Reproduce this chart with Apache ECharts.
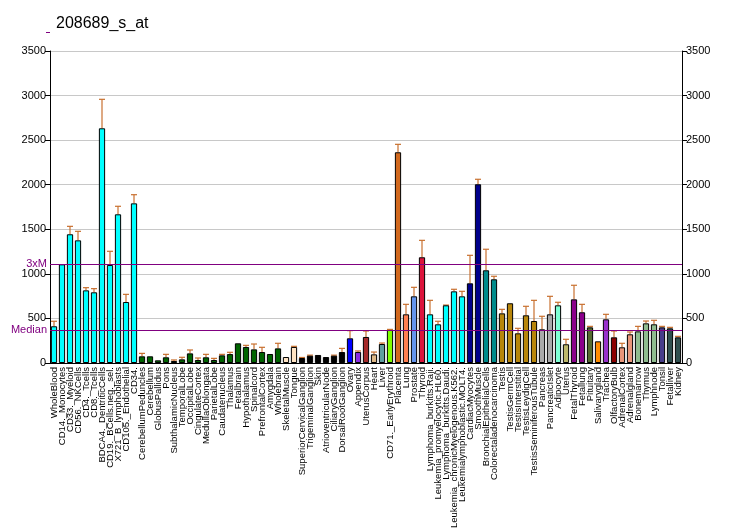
<!DOCTYPE html>
<html>
<head>
<meta charset="utf-8">
<script src="https://cdn.jsdelivr.net/npm/echarts@6/dist/echarts.min.js"></script>
<style>
html,body{margin:0;padding:0;background:#fff;}
#chart{width:732px;height:530px;}
</style>
</head>
<body>
<div id="chart"></div>
<script>
const categories = [
"WholeBlood","CD14._Monocytes","CD33._Myeloid","CD56._NKCells","CD4._Tcells","CD8._Tcells",
"BDCA4._DentriticCells","CD19._BCells.neg._sel.","X721_B_lymphoblasts","CD105._Endothelial","CD34.",
"CerebellumPeduncles","Cerebellum","GlobusPallidus","Pons","SubthalamicNucleus","TemporalLobe",
"OccipitalLobe","CingulateCortex","MedullaOblongata","ParietalLobe","Caudatenucleus","Thalamus",
"Fetalbrain","Hypothalamus","Spinalcord","PrefrontalCortex","Amygdala","Wholebrain","SkeletalMuscle",
"Tongue","SuperiorCervicalGanglion","TrigeminalGanglion","Skin","AtrioventricularNode","CiliaryGanglion",
"DorsalRootGanglion","Ovary","Appendix","UterusCorpus","Heart","Liver","CD71._EarlyErythroid","Placenta",
"Lung","Prostate","Thyroid","Lymphoma_burkitts.Raji.","Leukemia_promyelocytic.HL60.",
"Lymphoma_burkitts.Daudi.","Leukemia_chronicMyelogenous.K562.","Leukemialymphoblastic.MOLT4.",
"CardiacMyocytes","SmoothMuscle","BronchialEpithelialCells","Colorectaladenocarcinoma","Testis",
"TestisGermCell","TestisInterstitial","TestisLeydigCell","TestisSeminiferousTubule","Pancreas",
"PancreaticIslet","Adipocyte","Uterus","FetalThyroid","Fetallung","Pituitary","Salivarygland","Trachea",
"OlfactoryBulb","AdrenalCortex","Adrenalgland","Bonemarrow","Thymus","Lymphnode","Tonsil","Fetalliver","Kidney"
];
const values = [
412,1107,1444,1376,815,793,2633,1099,1668,684,1791,
75,75,30,64,22,41,108,34,64,34,86,100,221,180,153,123,101,164,
67,180,56,82,90,67,82,123,277,123,292,97,213,370,2364,546,748,1186,
546,434,647,804,748,894,2005,1040,939,557,670,333,535,471,378,546,647,
210,714,569,400,243,490,288,176,322,355,445,434,400,389,288
];
const errTops = [
468,null,1533,1477,845,834,2958,1253,1758,770,1888,
108,null,null,97,34,64,146,56,97,52,97,120,null,198,213,176,null,221,
null,187,62,88,null,null,88,164,363,135,359,123,224,377,2453,658,849,1376,
703,468,650,827,804,1208,2061,1276,973,602,null,389,636,703,524,748,681,
266,872,658,411,null,546,359,221,348,411,471,479,411,400,299
];
const barColors = [
"#00FFFF","#00FFFF","#00FFFF","#00FFFF","#00FFFF","#00FFFF","#00FFFF","#00FFFF","#00FFFF","#00FFFF","#00FFFF",
"#006400","#006400","#006400","#006400","#006400","#006400","#006400","#006400","#006400","#006400","#006400",
"#006400","#006400","#006400","#006400","#006400","#006400","#006400",
"#FFE4C4","#FFE4C4",
"#000000","#000000","#000000","#000000","#000000","#000000",
"#0000FF","#8A2BE2","#A52A2A","#DEB887","#5F9EA0","#7FFF00","#D2691E","#FF7F50","#6495ED","#DC143C",
"#00FFFF","#00FFFF","#00FFFF","#00FFFF","#00FFFF",
"#00008B","#00008B","#008B8B","#008B8B",
"#B8860B","#B8860B","#B8860B","#B8860B","#B8860B",
"#A9A9A9","#A9A9A9","#7FFFD4","#BDB76B","#8B008B","#8B008B","#556B2F","#FF8C00","#9932CC","#8B0000",
"#E9967A","#E9967A","#8FBC8F","#8FBC8F","#8FBC8F","#483D8B","#2F4F4F","#2F4F4F"
];
const yMin = 0, yMax = 3500, yInterval = 500;
const medianValue = 369;
const threeXM = 1107;
const titleText = "208689_s_at";

const chart = echarts.init(document.getElementById('chart'), null, {renderer:'canvas'});
const font = "Liberation Sans, Arial, sans-serif";
const purple = "#800080";
const errColor = "#C8702F";

const errData = [];
errTops.forEach((e,i)=>{ if(e!==null) errData.push([i, values[i], e]); });

const option = {
  animation:false,
  backgroundColor:'#fff',
  title:{text:titleText, left:51, top:11, textStyle:{fontFamily:font, fontSize:16, fontWeight:'normal', color:'#000'}},
  graphic:[{type:'line', shape:{x1:46,y1:32.5,x2:50,y2:32.5}, style:{stroke:purple, lineWidth:1}}],
  grid:{left:50, right:50, top:51, bottom:167, containLabel:false, outerBoundsMode:'none'},
  xAxis:{
    type:'category', data:categories,
    axisLine:{lineStyle:{color:'#000', width:1}},
    axisTick:{alignWithLabel:true, length:5, lineStyle:{color:'#000'}},
    axisLabel:{interval:0, rotate:90, fontFamily:font, fontSize:9.5, color:'#000', margin:4},
    splitLine:{show:false}
  },
  yAxis:[{
    type:'value', min:yMin, max:yMax, interval:yInterval, position:'left',
    axisLine:{show:true, lineStyle:{color:'#000'}},
    axisTick:{show:true, length:5, lineStyle:{color:'#000'}},
    axisLabel:{fontFamily:font, fontSize:11, color:'#000', margin:4, formatter:(v)=>String(v)},
    splitLine:{show:true, lineStyle:{color:'#C8C8C8', width:1}}
  },{
    type:'value', min:yMin, max:yMax, interval:yInterval, position:'right',
    axisLine:{show:true, lineStyle:{color:'#000'}},
    axisTick:{show:true, length:5, lineStyle:{color:'#000'}},
    axisLabel:{fontFamily:font, fontSize:11, color:'#000', margin:4, formatter:(v)=>String(v)},
    splitLine:{show:false}
  }],
  series:[{
    type:'bar',
    data:values.map((v,i)=>({value:v, itemStyle:{color:barColors[i]}})),
    barWidth:'78%',
    itemStyle:{borderColor:'#000', borderWidth:1},
    markLine:{
      silent:true, symbol:'none',
      lineStyle:{color:purple, type:'solid', width:1},
      label:{position:'start', fontFamily:font, fontSize:11, color:purple, distance:3},
      data:[
        {yAxis:threeXM, label:{formatter:'3xM'}},
        {yAxis:medianValue, label:{formatter:'Median'}}
      ]
    },
    z:3
  },{
    type:'custom',
    data:errData,
    z:2,
    renderItem:function(params, api){
      const x = api.value(0);
      const p0 = api.coord([x, api.value(1)]);
      const p1 = api.coord([x, api.value(2)]);
      return {type:'group', children:[
        {type:'line', shape:{x1:p0[0], y1:p0[1], x2:p1[0], y2:p1[1]}, style:{stroke:errColor, lineWidth:1.2}},
        {type:'line', shape:{x1:p1[0]-3, y1:p1[1], x2:p1[0]+3, y2:p1[1]}, style:{stroke:errColor, lineWidth:1.2}}
      ]};
    }
  }]
};
chart.setOption(option);
</script>
</body>
</html>
